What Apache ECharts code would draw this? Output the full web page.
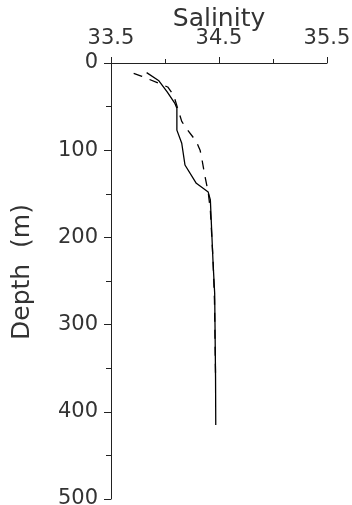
<!DOCTYPE html>
<html>
<head>
<meta charset="utf-8">
<script src="https://cdn.jsdelivr.net/npm/echarts@6/dist/echarts.min.js"></script>
<style>
  html, body { margin: 0; padding: 0; background: #fff; }
  #chart { width: 352px; height: 505px; }
</style>
</head>
<body>
<div id="chart"></div>
<script>
// Salinity profiles (solid and dashed casts), depth in metres
const solidSalinity = [33.83, 33.94, 34.02, 34.09, 34.11, 34.11, 34.155, 34.185, 34.29, 34.40, 34.42, 34.445, 34.46, 34.468, 34.47];
const solidDepth    = [11,    20,    33,    46,    52,    77,    92,     117,    138,   148,   157,   229,    264,   360,    415];

const dashedSalinity = [33.71, 33.78, 34.025, 34.08, 34.155, 34.195, 34.29, 34.325, 34.34, 34.37, 34.40, 34.42, 34.445, 34.458, 34.468];
const dashedDepth    = [12,    15,    27.5,   37,    67,     74.5,   90,    100,    109,    130,   148,   169,   226,    272,    360];

const salinityTicks = [33.5, 34.5, 35.5];
const depthTicks = [0, 100, 200, 300, 400, 500];

const pairs = (xs, ys) => xs.map((x, i) => [x, ys[i]]);

const FONT = 'DejaVu Sans';
const INK = '#333';

const chart = echarts.init(document.getElementById('chart'), null, { renderer: 'canvas' });

chart.setOption({
  animation: false,
  backgroundColor: '#fff',
  grid: { left: 111, top: 63, width: 216, height: 436, outerBoundsMode: 'none' },
  xAxis: {
    type: 'value',
    position: 'top',
    min: salinityTicks[0],
    max: salinityTicks[salinityTicks.length - 1],
    interval: 1,
    name: 'Salinity',
    nameLocation: 'middle',
    nameGap: 31,
    nameMoveOverlap: false,
    nameTextStyle: { fontFamily: FONT, fontSize: 25, color: INK },
    axisLine: { show: true, lineStyle: { color: '#222', width: 1 } },
    axisTick: { show: true, inside: false, length: 6, lineStyle: { color: '#222' } },
    minorTick: { show: true, splitNumber: 2, length: 4, lineStyle: { color: '#222' } },
    splitLine: { show: false },
    axisLabel: {
      margin: 14,
      fontFamily: FONT, fontSize: 21, color: INK,
      formatter: v => v.toFixed(1)
    }
  },
  yAxis: {
    type: 'value',
    inverse: true,
    min: depthTicks[0],
    max: depthTicks[depthTicks.length - 1],
    interval: 100,
    name: 'Depth  (m)',
    nameLocation: 'middle',
    nameGap: 76,
    nameRotate: 90,
    nameMoveOverlap: false,
    nameTextStyle: { fontFamily: FONT, fontSize: 25, color: INK, padding: [0, 0, 0, 18] },
    axisLine: { show: true, onZero: false, lineStyle: { color: '#222', width: 1 } },
    axisTick: { show: true, inside: false, length: 7, lineStyle: { color: '#222' } },
    minorTick: { show: true, splitNumber: 2, length: 5, lineStyle: { color: '#222' } },
    splitLine: { show: false },
    axisLabel: { margin: 13, fontFamily: FONT, fontSize: 21, color: INK }
  },
  series: [
    {
      type: 'line',
      data: pairs(solidSalinity, solidDepth),
      showSymbol: false,
      smooth: false,
      lineStyle: { color: '#000', width: 1.3, type: 'solid' }
    },
    {
      type: 'line',
      data: pairs(dashedSalinity, dashedDepth),
      showSymbol: false,
      smooth: false,
      lineStyle: { color: '#000', width: 1.3, type: [9, 8] }
    }
  ]
});
</script>
</body>
</html>
